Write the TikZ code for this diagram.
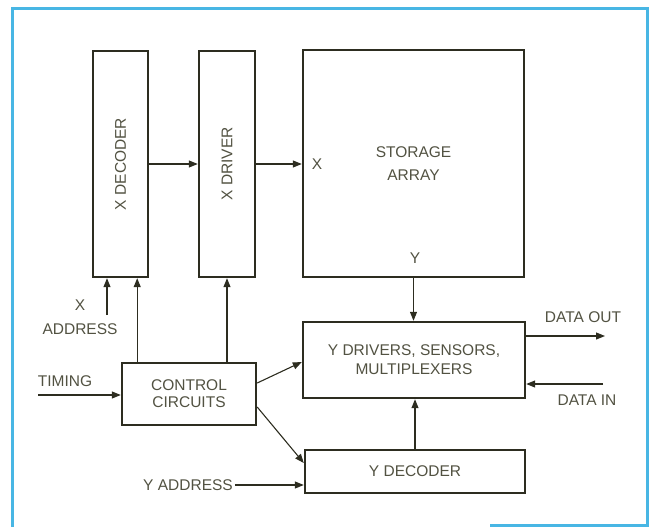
\documentclass[tikz,border=0pt]{standalone}
\usepackage{fontspec}
\setmainfont{Liberation Sans}
\usepackage{graphicx}
\usetikzlibrary{arrows.meta, positioning, calc}
\definecolor{frameblue}{RGB}{72,182,228}
\definecolor{inkline}{RGB}{45,45,32}
\definecolor{inktext}{RGB}{82,82,66}
\newcommand{\blkfont}{\fontsize{15.5}{19}\selectfont}

\begin{document}
\begin{tikzpicture}[
    x=1pt, y=-1pt,
    block/.style={draw=inkline, line width=2.4pt, fill=white, inner sep=2pt,
                  align=center, text=inktext, font=\blkfont},
    tag/.style={text=inktext, font=\blkfont, align=center, inner sep=2pt},
    sig/.style={draw=inkline, line width=1.1pt,
                -{Triangle[length=9pt,width=7pt]}}
]
\useasboundingbox (0,0) rectangle (653,527);
% ============== frame ==================
\draw[frameblue, line width=3pt] (490,525) -- (647,525) -- (647,9) -- (12,9) -- (12,527);
% ============== top row: decoder, driver, array ==================
\node[block, minimum width=55pt, minimum height=226pt] (xdec) at (120.5,164) {\rotatebox{90}{X DECODER}};
\node[block, minimum width=56pt, minimum height=226pt] (xdrv) at (227,164) {\rotatebox{90}{X DRIVER}};
\node[block, minimum width=221pt, minimum height=227pt] (store) at (413.5,163.5) {STORAGE\\[4pt]ARRAY};
\node[tag] (xlbl) at (317,164) {X};
\node[tag] (ylbl) at (415,258) {Y};
\draw[sig] (xdec.east) -- (xdrv.west);
\draw[sig] (xdrv.east) -- (xdrv.east -| store.west);
% ============== bottom: control and Y side ==================
\node[block, minimum width=134pt, minimum height=62pt] (ctrl) at (189,394) {CONTROL\\[-2pt]CIRCUITS};
\node[block, minimum width=222pt, minimum height=76pt] (ydrv) at (414,360) {Y DRIVERS, SENSORS,\\MULTIPLEXERS};
\node[block, minimum width=220pt, minimum height=43pt] (ydec) at (415,471.5) {Y DECODER};
% inputs and outputs
\node[tag] (xaddr) at (80,317) {X\\[5pt]ADDRESS};
\node[tag] (timing) at (65,381) {TIMING};
\node[tag] (yaddr) at (188,485) {Y ADDRESS};
\node[tag] (dolbl) at (583,317) {DATA OUT};
\node[tag] (dilbl) at (587,400) {DATA IN};
\coordinate (xain) at (107,315);
\coordinate (timin) at (38,395);
\coordinate (dout) at (605,336);
\coordinate (din) at (603,384);
\coordinate (xdecin) at ([xshift=-12pt]xdec.south east);
% connections
\draw[sig] (xain) -- (xain |- xdec.south);
\draw[sig] (xdecin |- ctrl.north) -- (xdecin);
\draw[sig] (xdrv.south |- ctrl.north) -- (xdrv.south);
\draw[sig] (timin) -- (timin -| ctrl.west);
\draw[sig] (store.south) -- (store.south |- ydrv.north);
\draw[sig] (ydec.north) -- (ydec.north |- ydrv.south);
\draw[sig] ([yshift=11pt]ctrl.east) -- ([yshift=-2pt]ydrv.west);
\draw[sig] ([yshift=-13pt]ctrl.east) -- ([yshift=8.5pt]ydec.west);
\draw[sig] (yaddr.east) -- (yaddr.east -| ydec.west);
\draw[sig] (dout -| ydrv.east) -- (dout);
\draw[sig] (din) -- (din -| ydrv.east);
\end{tikzpicture}
\end{document}
